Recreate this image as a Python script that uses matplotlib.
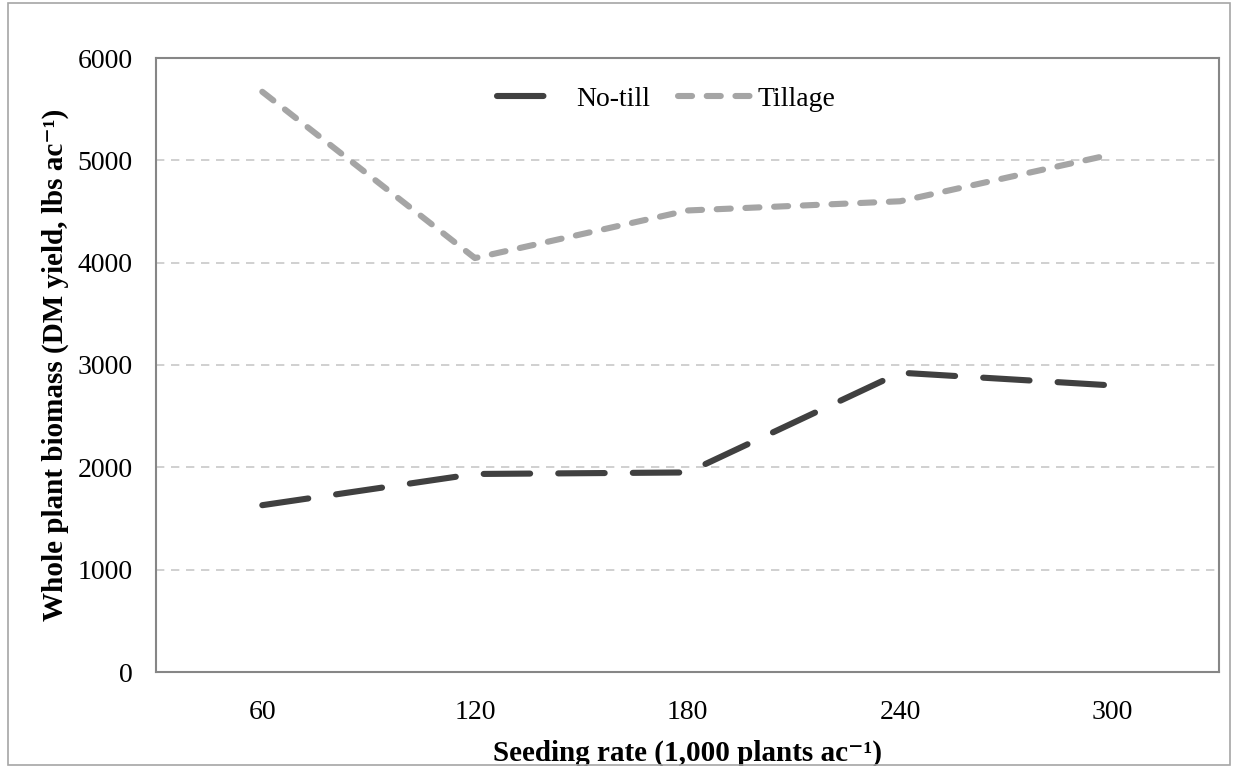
import numpy as np
import matplotlib
matplotlib.use('Agg')
from matplotlib import pyplot as plt
from matplotlib.patches import Rectangle

plt.rcParams['font.family'] = ['Liberation Serif', 'DejaVu Serif']

# donnees
seeding_rate = ['60', '120', '180', '240', '300']
no_till = [1630, 1935, 1950, 2925, 2800]
tillage = [5670, 4045, 4510, 4600, 5060]
yticks = [0, 1000, 2000, 3000, 4000, 5000, 6000]

fig = plt.figure(figsize=(12.33, 7.66), dpi=100)
ax = fig.add_axes([156/1233, 94/766, 1063/1233, 614/766])

# cadre exterieur
fig.patches.append(Rectangle((8/1233, 1/766), 1222/1233, 762/766,
                             transform=fig.transFigure, fill=False,
                             edgecolor='#a6a6a6', linewidth=1.2))

x = np.arange(len(seeding_rate))
ax.plot(x, no_till, color='#404040', linewidth=4.4, dashes=(7.6, 4.6),
        dash_capstyle='round', solid_capstyle='round', label='No-till')
ax.plot(x, tillage, color='#a5a5a5', linewidth=4.4, dashes=(2.3, 2.4),
        dash_capstyle='round', solid_capstyle='round', label='Tillage')

ax.set_xlim(-0.5, len(seeding_rate) - 0.5)
ax.set_ylim(0, 6000)
ax.set_yticks(yticks)
ax.set_yticklabels([str(v) for v in yticks])
ax.set_xticks(x)
ax.set_xticklabels(seeding_rate)
ax.tick_params(length=0, labelsize=20, colors='black')
ax.tick_params(axis='y', pad=17)
ax.tick_params(axis='x', pad=20)

for v in yticks[1:-1]:
    ax.axhline(v, color='#c8c8c8', linewidth=1.2, dashes=(5, 4), zorder=0)
for s in ax.spines.values():
    s.set_color('#868686')
    s.set_linewidth(1.5)

ax.set_xlabel('Seeding rate (1,000 plants ac\u207b\u00b9)',
              fontsize=21, fontweight='bold', labelpad=11)
ax.set_ylabel('Whole plant biomass (DM yield, lbs ac\u207b\u00b9)',
              fontsize=21, fontweight='bold', labelpad=6)

ax.legend(loc='upper center', bbox_to_anchor=(0.48, 0.995), ncol=2,
          frameon=False, fontsize=20, handlelength=2.65, handletextpad=0.2,
          columnspacing=1.0)

fig.savefig('out.png', dpi=100)
